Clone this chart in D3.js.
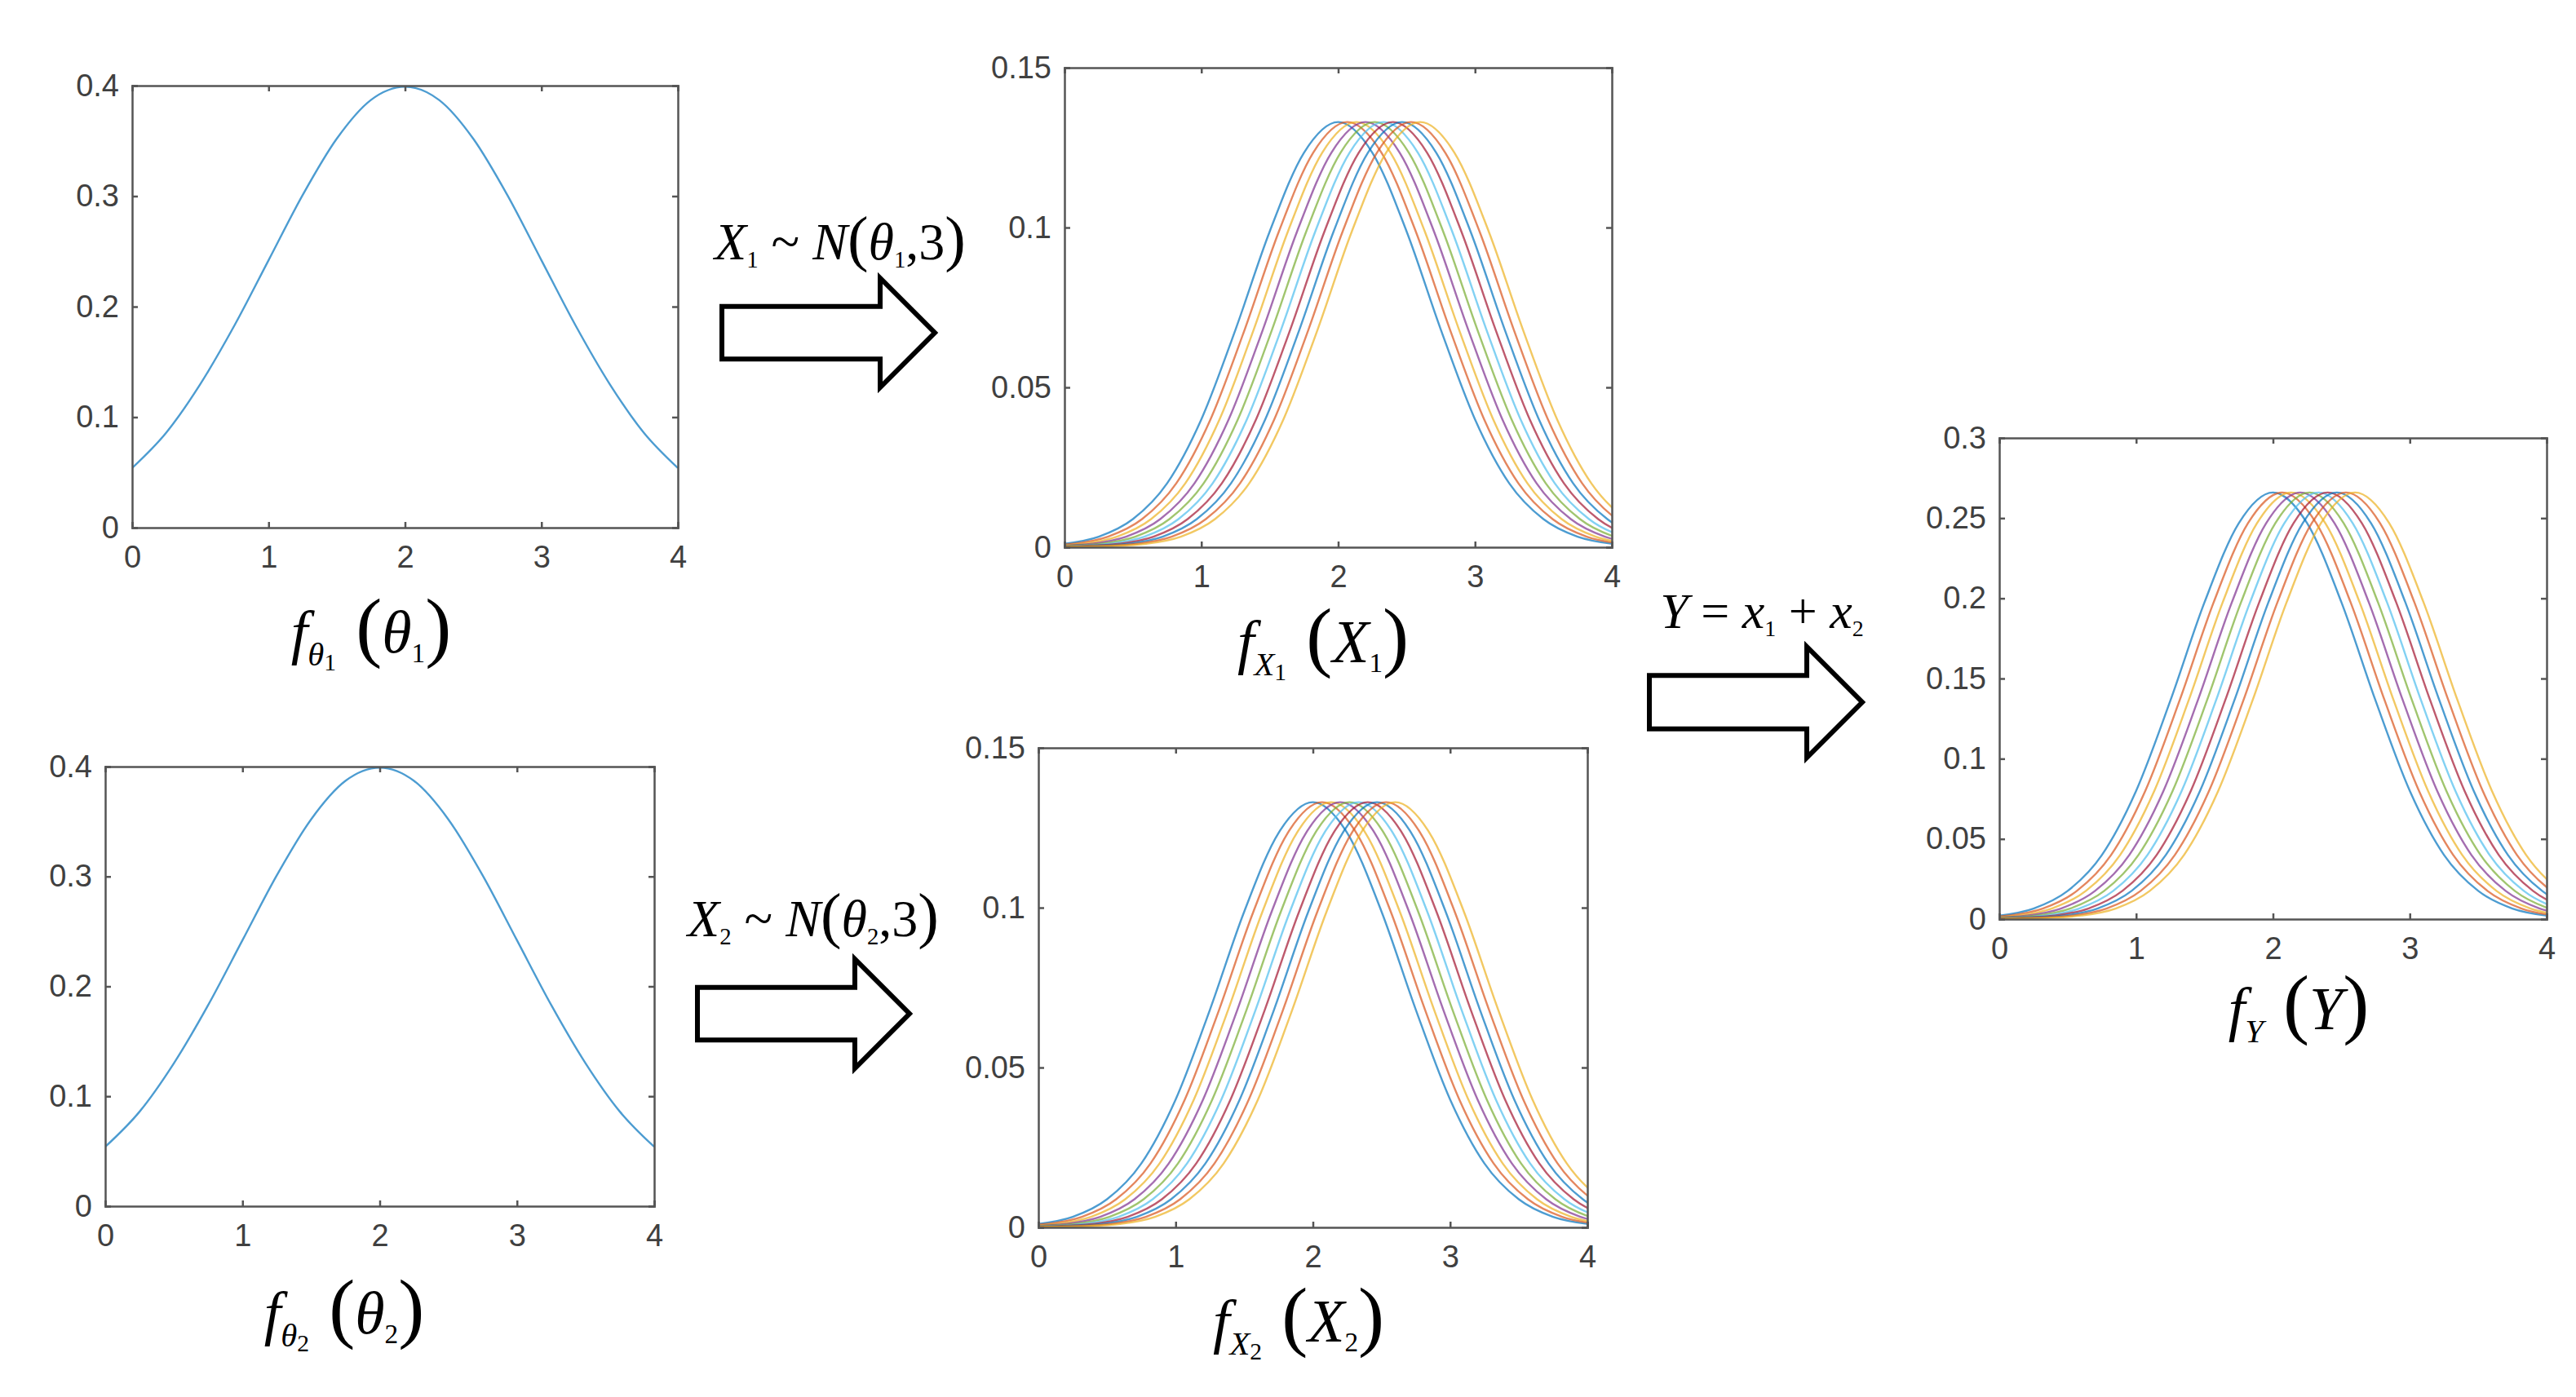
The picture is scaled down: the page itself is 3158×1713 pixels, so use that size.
<!DOCTYPE html>
<html><head><meta charset="utf-8">
<script src="https://cdn.jsdelivr.net/npm/d3@7"></script>
<style>body{margin:0;background:#fff}</style></head>
<body><svg id="c" width="3158" height="1713"></svg>
<script>
// ---- data ----
const thetaX = [0,0.25,0.5,0.75,1,1.25,1.5,1.75,2,2.25,2.5,2.75,3,3.25,3.5,3.75,4];
const thetaY = [0.054,0.086,0.130,0.183,0.242,0.301,0.352,0.387,0.399,0.387,0.352,0.301,0.242,0.183,0.130,0.086,0.054];
const baseOffsets = [-4,-3.5,-3,-2.75,-2.5,-2.25,-2,-1.75,-1.5,-1.25,-1,-0.75,-0.5,-0.25,0,0.25,0.5,0.75,1,1.25,1.5,1.75,2,2.25,2.5,2.75,3,3.5,4];
const baseX = [0,0,0,0.0001,0.0002,0.0004,0.0011,0.0033,0.0088,0.0200,0.0400,0.0681,0.0988,0.1234,0.133,0.1234,0.0988,0.0681,0.0400,0.0200,0.0088,0.0033,0.0011,0.0004,0.0002,0.0001,0,0,0];
const baseY = [0,0,0,0.0002,0.0004,0.0008,0.0022,0.0066,0.0176,0.0400,0.0800,0.1362,0.1976,0.2468,0.266,0.2468,0.1976,0.1362,0.0800,0.0400,0.0176,0.0066,0.0022,0.0008,0.0004,0.0002,0,0,0];
const peakPositions = [2.0,2.067,2.133,2.2,2.267,2.333,2.4,2.467,2.533,2.6];
const seriesColors = ["#0072BD","#D95319","#EDB120","#7E2F8E","#77AC30","#4DBEEE","#A2142F","#0072BD","#D95319","#EDB120"];
const xTicks = [0,1,2,3,4];
const thetaTicks = [0,0.1,0.2,0.3,0.4];
const xTicksY = [0,0.05,0.1,0.15];
const yTicksY = [0,0.05,0.1,0.15,0.2,0.25,0.3];

const svg = d3.select("#c");
const axisColor = "#404040";

function panel(box, yMax, yTicks, series){
  const x = d3.scaleLinear().domain([0,4]).range([box.x0, box.x1]);
  const y = d3.scaleLinear().domain([0,yMax]).range([box.y1, box.y0]);
  const g = svg.append("g");
  const clipId = "clip"+Math.round(box.x0)+"_"+Math.round(box.y0);
  g.append("clipPath").attr("id",clipId).append("rect")
    .attr("x",box.x0).attr("y",box.y0-2).attr("width",box.x1-box.x0).attr("height",box.y1-box.y0+2);
  const line = d3.line().x(d=>x(d[0])).y(d=>y(d[1])).curve(d3.curveMonotoneX);
  series.forEach(s=>{
    g.append("path").attr("d",line(s.pts)).attr("fill","none")
      .attr("stroke",s.color).attr("stroke-width",2.4).attr("stroke-opacity",0.7)
      .attr("clip-path",`url(#${clipId})`);
  });
  const tl = 7;
  const fmt = d=>String(d);
  const axB = d3.axisBottom(x).tickValues(xTicks).tickSize(-tl).tickPadding(22).tickFormat(fmt);
  const axT = d3.axisTop(x).tickValues(xTicks).tickSize(-tl).tickFormat("");
  const axL = d3.axisLeft(y).tickValues(yTicks).tickSize(-tl).tickPadding(16).tickFormat(fmt);
  const axR = d3.axisRight(y).tickValues(yTicks).tickSize(-tl).tickFormat("");
  [[axB,`translate(0,${box.y1})`],[axT,`translate(0,${box.y0})`],[axL,`translate(${box.x0},0)`],[axR,`translate(${box.x1},0)`]]
  .forEach(([a,t])=>{
    const ag = g.append("g").attr("transform",t).call(a);
    ag.selectAll("path").attr("stroke","#555").attr("stroke-width",2.5);
    ag.selectAll("line").attr("stroke","#555").attr("stroke-width",2.5);
    ag.selectAll("text").attr("fill",axisColor).style("font-family","Liberation Sans, Arial").style("font-size","38px");
  });
}

function curveSeries(base){
  return peakPositions.map((p,i)=>({color:seriesColors[i], pts: baseOffsets.map((o,j)=>[p+o, base[j]])}));
}
const thetaSeries = [{color:"#0072BD", pts: thetaX.map((v,i)=>[v,thetaY[i]])}];

panel({x0:162,x1:831,y0:105,y1:647},0.4,thetaTicks,thetaSeries);
panel({x0:129,x1:802,y0:940,y1:1479},0.4,thetaTicks,thetaSeries);
panel({x0:1305,x1:1976,y0:83,y1:671},0.15,xTicksY,curveSeries(baseX));
panel({x0:1273,x1:1946,y0:917,y1:1505},0.15,xTicksY,curveSeries(baseX));
panel({x0:2451,x1:3122,y0:537,y1:1127},0.3,yTicksY,curveSeries(baseY));

// arrows
function arrow(x0,x1,yc,h){
  const bh = h*0.24, hx = x1 - h*0.5;
  const p = `M${x0},${yc-bh} L${hx},${yc-bh} L${hx},${yc-h/2} L${x1},${yc} L${hx},${yc+h/2} L${hx},${yc+bh} L${x0},${yc+bh} Z`;
  svg.append("path").attr("d",p).attr("fill","#fff").attr("stroke","#000").attr("stroke-width",6).attr("stroke-linejoin","miter");
}
arrow(885,1146,408,134);
arrow(855,1115,1243,134);
arrow(2022,2283,861,136);

// math labels
function mathText(x,y,parts,size){
  const t = svg.append("text").attr("x",x).attr("y",y).attr("text-anchor","middle")
    .style("font-family","Liberation Serif, Times New Roman, serif").style("font-size",size+"px").attr("fill","#000");
  parts.forEach(p=>{
    const ts = t.append("tspan").text(p.t);
    if(p.i) ts.style("font-style","italic");
    if(p.s) ts.style("font-size",(p.s*size)+"px");
    if(p.dy) ts.attr("dy",p.dy);
  });
}
mathText(455,800,[{t:"f",i:1},{t:"θ",i:1,s:0.55,dy:16},{t:"1",s:0.4,dy:6},{t:" (",s:1.3,dy:-22},{t:"θ",i:1},{t:"1",s:0.45,dy:12},{t:")",s:1.3,dy:-12}],74);
mathText(422,1635,[{t:"f",i:1},{t:"θ",i:1,s:0.55,dy:16},{t:"2",s:0.4,dy:6},{t:" (",s:1.3,dy:-22},{t:"θ",i:1},{t:"2",s:0.45,dy:12},{t:")",s:1.3,dy:-12}],74);
mathText(1622,812,[{t:"f",i:1},{t:"X",i:1,s:0.55,dy:16},{t:"1",s:0.4,dy:6},{t:" (",s:1.3,dy:-22},{t:"X",i:1},{t:"1",s:0.45,dy:12},{t:")",s:1.3,dy:-12}],74);
mathText(1592,1645,[{t:"f",i:1},{t:"X",i:1,s:0.55,dy:16},{t:"2",s:0.4,dy:6},{t:" (",s:1.3,dy:-22},{t:"X",i:1},{t:"2",s:0.45,dy:12},{t:")",s:1.3,dy:-12}],74);
mathText(2818,1262,[{t:"f",i:1},{t:"Y",i:1,s:0.55,dy:16},{t:" (",s:1.3,dy:-16},{t:"Y",i:1},{t:")",s:1.3}],74);
mathText(1030,318,[{t:"X",i:1},{t:"1",s:0.45,dy:10},{t:" ~ ",dy:-10},{t:"N",i:1},{t:"(",s:1.2},{t:"θ",i:1},{t:"1",s:0.45,dy:10},{t:",3",dy:-10},{t:")",s:1.2}],64);
mathText(997,1148,[{t:"X",i:1},{t:"2",s:0.45,dy:10},{t:" ~ ",dy:-10},{t:"N",i:1},{t:"(",s:1.2},{t:"θ",i:1},{t:"2",s:0.45,dy:10},{t:",3",dy:-10},{t:")",s:1.2}],64);
mathText(2160,770,[{t:"Y",i:1},{t:" = "},{t:"x",i:1},{t:"1",s:0.45,dy:10},{t:" + ",dy:-10},{t:"x",i:1},{t:"2",s:0.45,dy:10}],62);
</script></body></html>
